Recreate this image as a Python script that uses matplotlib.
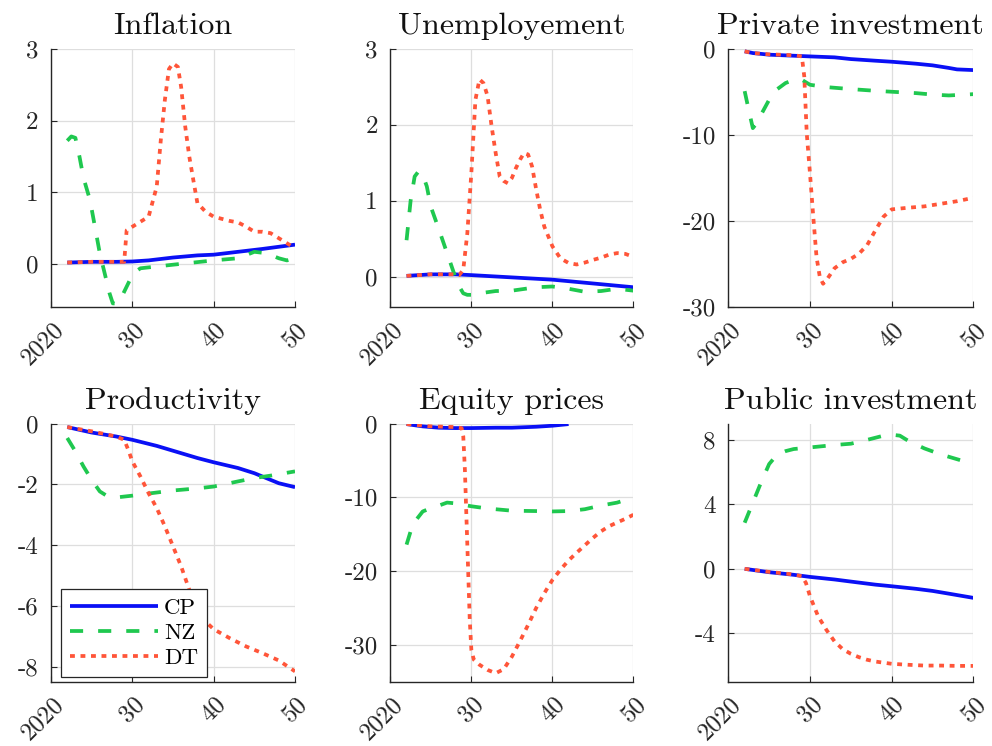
import matplotlib
matplotlib.use("Agg")
import matplotlib.pyplot as plt
from matplotlib.transforms import ScaledTranslation

plt.rcParams["font.family"] = "cmr10"
plt.rcParams["axes.unicode_minus"] = False
plt.rcParams["mathtext.fontset"] = "cm"
plt.rcParams["axes.formatter.use_mathtext"] = True

BLUE = "#0a10f5"
GREEN = "#1fc84f"
RED = "#ff5539"

scenario_names = ["CP", "NZ", "DT"]

# ---------------- Inflation ----------------
infl_cp_x = [2022, 2025, 2028, 2030, 2032, 2035, 2038, 2040, 2043, 2046, 2050]
infl_cp_y = [0.02, 0.03, 0.03, 0.035, 0.05, 0.09, 0.12, 0.13, 0.17, 0.21, 0.27]
infl_nz_x = [2022, 2022.5, 2023, 2023.5, 2024, 2024.8, 2026, 2027.2, 2027.6, 2028.2,
             2028.9, 2030.1, 2031, 2035, 2040, 2043, 2045, 2046.5, 2048, 2049, 2050]
infl_nz_y = [1.72, 1.78, 1.76, 1.5, 1.2, 0.89, 0.15, -0.41, -0.55, -0.55,
             -0.41, -0.13, -0.06, -0.01, 0.05, 0.08, 0.17, 0.15, 0.08, 0.05, 0.08]
infl_dt_x = [2022, 2025, 2028, 2029, 2029.3, 2030, 2031, 2032, 2033, 2033.5, 2034,
             2034.5, 2035, 2035.6, 2036, 2036.5, 2037, 2037.5, 2038, 2039, 2040,
             2042, 2043, 2044, 2045, 2046, 2047, 2048, 2049, 2050]
infl_dt_y = [0.02, 0.03, 0.03, 0.03, 0.47, 0.52, 0.59, 0.66, 1.08, 1.73, 2.29,
             2.72, 2.8, 2.75, 2.47, 1.92, 1.5, 1.17, 0.85, 0.73, 0.66,
             0.6, 0.58, 0.52, 0.45, 0.45, 0.43, 0.36, 0.29, 0.22]

# ---------------- Unemployment ----------------
unemp_cp_x = [2022, 2025, 2028, 2030, 2035, 2040, 2045, 2050]
unemp_cp_y = [0.01, 0.03, 0.03, 0.02, -0.01, -0.04, -0.09, -0.14]
unemp_nz_x = [2022, 2022.5, 2023, 2023.5, 2024, 2024.5, 2025, 2026, 2027, 2028,
              2028.5, 2029, 2029.5, 2030, 2031, 2033, 2035, 2038, 2040, 2042,
              2044, 2046, 2048, 2050]
unemp_nz_y = [0.48, 1.0, 1.32, 1.39, 1.34, 1.19, 0.92, 0.62, 0.31, 0.0,
              -0.13, -0.22, -0.24, -0.24, -0.22, -0.19, -0.185, -0.14, -0.13, -0.16,
              -0.2, -0.19, -0.16, -0.185]
unemp_dt_x = [2022, 2025, 2028, 2028.5, 2029, 2029.5, 2030, 2030.5, 2031, 2031.5,
              2032, 2032.5, 2033, 2033.5, 2034, 2034.5, 2035, 2035.5, 2036, 2036.5,
              2037, 2037.5, 2038, 2038.5, 2039, 2040, 2041, 2042, 2043, 2044, 2045,
              2046, 2047, 2048, 2049, 2050]
unemp_dt_y = [0.01, 0.03, 0.03, 0.02, 0.09, 0.57, 1.37, 2.33, 2.6, 2.55,
              2.38, 1.98, 1.63, 1.32, 1.26, 1.23, 1.3, 1.43, 1.54, 1.63,
              1.61, 1.45, 1.15, 0.88, 0.66, 0.4, 0.24, 0.18, 0.16, 0.185, 0.22,
              0.25, 0.29, 0.31, 0.3, 0.26]

# ---------------- Private investment ----------------
pinv_cp_x = [2022, 2023, 2025, 2028, 2030, 2033, 2035, 2038, 2040, 2043, 2045, 2047, 2048, 2050]
pinv_cp_y = [-0.27, -0.47, -0.66, -0.78, -0.86, -0.97, -1.17, -1.36, -1.48, -1.71,
             -1.9, -2.2, -2.37, -2.45]
pinv_nz_x = [2022, 2022.5, 2023, 2023.5, 2024, 2025, 2026, 2027, 2028, 2029, 2030,
             2032, 2035, 2038, 2040, 2043, 2045, 2047, 2050]
pinv_nz_y = [-4.9, -7.1, -9.2, -8.6, -7.65, -5.9, -4.66, -3.96, -3.58, -3.58, -4.16,
             -4.43, -4.66, -4.86, -4.97, -5.13, -5.3, -5.4, -5.25]
pinv_dt_x = [2022, 2023, 2025, 2028, 2029, 2029.3, 2029.6, 2030, 2030.4, 2030.8,
             2031.2, 2031.6, 2032, 2033, 2034, 2035, 2036, 2037, 2038, 2039, 2040,
             2042, 2044, 2046, 2048, 2050]
pinv_dt_y = [-0.27, -0.47, -0.62, -0.72, -0.86, -3.2, -9.8, -14.5, -19.5, -24.2,
             -26.5, -27.3, -26.9, -25.5, -24.8, -24.4, -23.8, -22.8, -21.1, -19.5, -18.65,
             -18.46, -18.3, -18.0, -17.7, -17.3]

# ---------------- Productivity ----------------
prod_cp_x = [2022, 2025, 2028, 2030, 2033, 2035, 2038, 2040, 2043, 2045, 2047, 2048, 2050]
prod_cp_y = [-0.11, -0.29, -0.42, -0.53, -0.73, -0.89, -1.13, -1.27, -1.46, -1.63,
             -1.85, -1.96, -2.09]
prod_nz_x = [2022, 2023, 2024, 2025, 2026, 2027, 2028, 2029, 2030, 2032, 2035, 2038,
             2040, 2043, 2045, 2047, 2050]
prod_nz_y = [-0.47, -0.91, -1.41, -1.85, -2.23, -2.4, -2.43, -2.4, -2.37, -2.3, -2.2,
             -2.13, -2.07, -1.9, -1.79, -1.71, -1.57]
prod_dt_x = [2022, 2025, 2028, 2029, 2029.5, 2030, 2031, 2032, 2033, 2034, 2035,
             2036, 2037, 2038, 2039, 2040, 2042, 2044, 2046, 2048, 2050]
prod_dt_y = [-0.11, -0.25, -0.42, -0.53, -0.86, -1.24, -1.74, -2.29, -2.78, -3.38,
             -4.04, -4.7, -5.47, -6.13, -6.52, -6.77, -7.07, -7.34, -7.56, -7.8, -8.16]

# ---------------- Equity prices ----------------
eq_cp_x = [2022, 2024, 2026, 2028, 2030, 2033, 2035, 2038, 2040, 2042]
eq_cp_y = [-0.05, -0.36, -0.54, -0.59, -0.59, -0.54, -0.54, -0.41, -0.27, -0.05]
eq_nz_x = [2022, 2022.5, 2023, 2024, 2025, 2026, 2027, 2028, 2029, 2030, 2032, 2035,
           2038, 2040, 2042, 2044, 2046, 2048, 2050]
eq_nz_y = [-16.4, -14.6, -13.3, -11.9, -11.45, -11.1, -10.7, -10.8, -11.0, -11.2,
           -11.5, -11.8, -11.85, -11.9, -11.85, -11.6, -11.1, -10.7, -10.0]
eq_dt_x = [2022, 2025, 2028, 2028.8, 2029, 2029.2, 2029.4, 2029.6, 2029.8, 2030,
           2030.3, 2031, 2032, 2033, 2034, 2035, 2036, 2037, 2038, 2039, 2040, 2041,
           2042, 2043, 2044, 2045, 2046, 2047, 2048, 2049, 2050]
eq_dt_y = [-0.05, -0.36, -0.45, -0.6, -1.7, -6.2, -13.0, -19.8, -26.6, -30.7,
           -32.0, -32.7, -33.4, -33.85, -33.3, -31.6, -29.5, -27.3, -25.0, -23.0, -21.2,
           -19.8, -18.55, -17.5, -16.5, -15.5, -14.6, -13.9, -13.4, -12.9, -12.35]

# ---------------- Public investment ----------------
gi_cp_x = [2022, 2025, 2028, 2030, 2033, 2035, 2038, 2040, 2043, 2045, 2047, 2050]
gi_cp_y = [0.0, -0.21, -0.37, -0.5, -0.66, -0.79, -0.98, -1.08, -1.24, -1.37, -1.54, -1.8]
gi_nz_x = [2022, 2023, 2024, 2025, 2026, 2027, 2028, 2030, 2033, 2035, 2037, 2039,
           2040, 2041, 2042, 2044, 2046, 2048, 2050]
gi_nz_y = [2.86, 4.1, 5.35, 6.5, 7.1, 7.3, 7.43, 7.53, 7.68, 7.76, 8.0, 8.26,
           8.32, 8.26, 7.95, 7.47, 7.1, 6.8, 6.5]
gi_dt_x = [2022, 2025, 2028, 2029, 2029.5, 2030, 2031, 2032, 2033, 2034, 2035, 2036,
           2037, 2038, 2040, 2042, 2044, 2046, 2048, 2050]
gi_dt_y = [0.0, -0.19, -0.35, -0.46, -0.87, -1.7, -2.95, -3.78, -4.5, -4.98, -5.27,
           -5.48, -5.64, -5.75, -5.89, -5.95, -6.0, -6.0, -6.02, -6.02]

panel_titles = ["Inflation", "Unemployement", "Private investment",
                "Productivity", "Equity prices", "Public investment"]
x_ticks = [2020, 2030, 2040, 2050]
x_tick_labels = ["2020", "30", "40", "50"]

panels = [
    (infl_cp_x, infl_cp_y, infl_nz_x, infl_nz_y, infl_dt_x, infl_dt_y,
     (-0.6, 3), [0, 1, 2, 3]),
    (unemp_cp_x, unemp_cp_y, unemp_nz_x, unemp_nz_y, unemp_dt_x, unemp_dt_y,
     (-0.4, 3), [0, 1, 2, 3]),
    (pinv_cp_x, pinv_cp_y, pinv_nz_x, pinv_nz_y, pinv_dt_x, pinv_dt_y,
     (-30, 0), [-30, -20, -10, 0]),
    (prod_cp_x, prod_cp_y, prod_nz_x, prod_nz_y, prod_dt_x, prod_dt_y,
     (-8.5, 0), [-8, -6, -4, -2, 0]),
    (eq_cp_x, eq_cp_y, eq_nz_x, eq_nz_y, eq_dt_x, eq_dt_y,
     (-35, 0), [-30, -20, -10, 0]),
    (gi_cp_x, gi_cp_y, gi_nz_x, gi_nz_y, gi_dt_x, gi_dt_y,
     (-7, 9), [-4, 0, 4, 8]),
]

# axes rectangles in figure fractions: [left, bottom, width, height]
col_left = [0.0514, 0.3935, 0.7342]
col_width = [0.246, 0.245, 0.247]
row_bottom = [0.5885, 0.0862]
row_height = 0.3458

LW = 2.7
fig = plt.figure(figsize=(9.92, 7.46), dpi=100)
label_shift = ScaledTranslation(9 / 100, 0, fig.dpi_scale_trans)

for i, (cx, cy, nx, ny, dx, dy, ylim, yticks) in enumerate(panels):
    r, c = divmod(i, 3)
    ax = fig.add_axes([col_left[c], row_bottom[r], col_width[c], row_height])
    l_cp, = ax.plot(cx, cy, color=BLUE, lw=LW, solid_capstyle="butt", zorder=3)
    l_nz, = ax.plot(nx, ny, color=GREEN, lw=LW, linestyle=(0, (3.5, 4.0)),
                    dash_capstyle="butt", zorder=3)
    l_dt, = ax.plot(dx, dy, color=RED, lw=LW, linestyle=(0, (1.3, 1.5)),
                    dash_capstyle="butt", zorder=4)
    ax.set_xlim(2020, 2050)
    ax.set_ylim(*ylim)
    ax.set_xticks(x_ticks)
    ax.set_xticklabels(x_tick_labels, rotation=45, ha="right", va="center",
                       rotation_mode="anchor")
    ax.set_yticks(yticks)
    ax.set_yticklabels([str(v) for v in yticks])
    ax.grid(True, color="#dedede", lw=0.9)
    ax.set_axisbelow(True)
    for side in ("top", "right"):
        ax.spines[side].set_visible(False)
    for side in ("left", "bottom"):
        ax.spines[side].set_color("#262626")
        ax.spines[side].set_linewidth(1.0)
    ax.tick_params(direction="in", length=4, width=0.8, colors="#262626",
                   labelsize=18, labelcolor="#262626")
    ax.tick_params(axis="x", pad=14)
    ax.tick_params(axis="y", pad=9)
    for lab in ax.get_xticklabels():
        lab.set_transform(lab.get_transform() + label_shift)
    ax.set_title(panel_titles[i], fontsize=23, pad=10.5, color="#111111")
    if i == 3:
        leg = ax.legend([l_cp, l_nz, l_dt], scenario_names, loc="lower left",
                        bbox_to_anchor=(0.04, 0.0194), borderaxespad=0,
                        fontsize=16.5, frameon=True, fancybox=False,
                        edgecolor="#262626", framealpha=1, handlelength=3.85,
                        labelspacing=0.2, borderpad=0.4, handletextpad=0.25)
        leg.get_frame().set_linewidth(0.9)

fig.savefig("out.png", dpi=100)
